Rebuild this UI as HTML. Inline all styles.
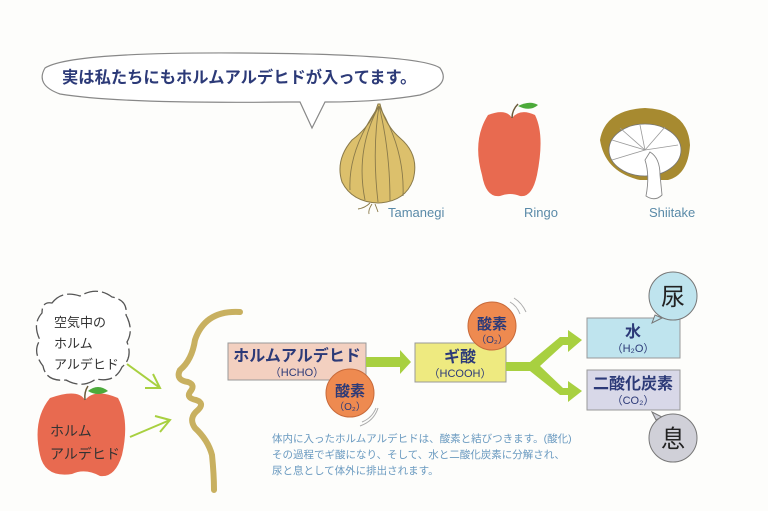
<!DOCTYPE html>
<html><head><meta charset="utf-8"><style>
html,body{margin:0;padding:0;background:#fdfdfb;}
svg{display:block}
text{font-family:"Liberation Sans","Noto Sans CJK JP",sans-serif;}
</style></head><body>
<svg width="768" height="511" viewBox="0 0 768 511" xmlns="http://www.w3.org/2000/svg">
<rect width="768" height="511" fill="#fdfdfb"/>
<!-- speech bubble -->
<path d="M290,102 Q120,104 60,94 Q35,85 45,68 Q70,52 240,53 Q420,54 440,68 Q452,85 420,95 Q380,102 325,102 L312,128 L300,102 Z" fill="#fff" stroke="#888" stroke-width="1.2"/>
<text x="62" y="83" font-size="16.3" font-weight="bold" fill="#2c3a78">実は私たちにもホルムアルデヒドが入ってます。</text>
<!-- onion -->
<path d="M378,104 Q372,125 352,140 Q335,160 342,182 Q352,202 378,203 Q405,202 413,180 Q420,155 400,138 Q385,125 380,104 Z" fill="#dcc06c" stroke="#8a7a4a" stroke-width="1"/>
<g fill="none" stroke="#8a7a4a" stroke-width="0.9">
<path d="M379,106 Q355,150 365,200"/><path d="M379,106 Q372,150 378,202"/><path d="M379,106 Q390,150 390,201"/><path d="M379,106 Q405,150 403,196"/><path d="M379,106 Q348,150 350,190"/>
<path d="M370,203 q-5,5 -12,6 M372,204 q-4,6 -3,10 M375,204 q2,5 3,8"/></g>
<!-- apple top -->
<path d="M488,115 Q506,108 512,118 Q520,108 535,115 Q545,135 537,175 Q532,198 520,196 Q510,192 500,196 Q486,198 482,175 Q472,140 488,115 Z" fill="#e86a50"/>
<path d="M512,118 Q512,110 518,104" stroke="#6a5a3a" stroke-width="1.5" fill="none"/>
<path d="M518,106 Q530,100 538,105 Q530,112 518,106 Z" fill="#4caa3a"/>
<!-- mushroom -->
<path d="M600,140 Q605,110 645,108 Q688,110 690,145 Q688,175 668,180 L640,180 Q605,172 600,140 Z" fill="#a78a30"/>
<ellipse cx="645" cy="150" rx="36" ry="26" fill="#fff" stroke="#777" stroke-width="0.8"/>
<g stroke="#999" stroke-width="0.8"><line x1="645" y1="150" x2="612" y2="140"/><line x1="645" y1="150" x2="620" y2="128"/><line x1="645" y1="150" x2="640" y2="125"/><line x1="645" y1="150" x2="665" y2="127"/><line x1="645" y1="150" x2="678" y2="145"/><line x1="645" y1="150" x2="612" y2="160"/></g>
<path d="M650,152 Q660,158 660,175 L662,195 Q655,202 646,196 Q650,175 645,160 Z" fill="#fff" stroke="#888" stroke-width="0.9"/>
<g font-size="13" fill="#5a8aa8"><text x="388" y="217">Tamanegi</text><text x="524" y="217">Ringo</text><text x="649" y="217">Shiitake</text></g>
<!-- cloud -->
<path d="M52,303 Q62,290 80,296 Q97,286 112,297 Q128,300 126,315 Q134,330 127,342 Q133,358 122,367 Q115,383 96,379 Q82,389 66,380 Q46,382 43,366 Q32,352 40,340 Q32,324 42,313 Q42,301 52,303 Z" fill="#fff" stroke="#555" stroke-width="1.3" stroke-dasharray="14,4"/>
<g font-size="13" fill="#333"><text x="54" y="327">空気中の</text><text x="54" y="348">ホルム</text><text x="54" y="369">アルデヒド</text></g>
<!-- bottom apple -->
<path d="M50,398 Q78,388 85,400 Q95,388 118,398 Q130,420 122,455 Q115,478 100,476 Q85,468 72,474 Q45,478 40,455 Q32,420 50,398 Z" fill="#e86a50"/>
<path d="M85,400 Q84,392 88,386" stroke="#6a5a3a" stroke-width="1.5" fill="none"/>
<path d="M88,391 Q98,383 108,391 Q98,397 88,391 Z" fill="#4caa3a"/>
<g font-size="14" fill="#333"><text x="50" y="436">ホルム</text><text x="50" y="459">アルデヒド</text></g>
<!-- inflow arrows -->
<g stroke="#a8d040" stroke-width="2" fill="none"><path d="M127,364 L160,388 M145,388 L160,388 L153,374"/><path d="M130,437 L170,420 M155,416 L170,420 L160,432"/></g>
<!-- face -->
<path d="M240,312 Q205,310 195,340 Q192,360 180,370 Q175,380 188,382 Q196,385 190,392 Q186,398 196,400 Q205,403 198,410 Q188,418 195,428 Q208,440 212,455 Q214,475 214,490" fill="none" stroke="#c8b060" stroke-width="6" stroke-linecap="round"/>
<!-- HCHO box -->
<rect x="228" y="343" width="138" height="37" fill="#f3d0c0" stroke="#999" stroke-width="1"/>
<text x="297" y="361" font-size="16" font-weight="bold" fill="#2c3a78" text-anchor="middle">ホルムアルデヒド</text>
<text x="297" y="376" font-size="11" fill="#2c3a78" text-anchor="middle">（HCHO）</text>
<!-- arrow 1 -->
<path d="M366,357 L400,357 L400,350 L411,362 L400,374 L400,367 L366,367 Z" fill="#a8d040"/>
<!-- ギ酸 box -->
<rect x="415" y="343" width="91" height="39" fill="#eeea80" stroke="#999" stroke-width="1"/>
<text x="460" y="362" font-size="16" font-weight="bold" fill="#2c3a78" text-anchor="middle">ギ酸</text>
<text x="460" y="377" font-size="11" fill="#2c3a78" text-anchor="middle">（HCOOH）</text>
<!-- Y branch -->
<path d="M506,362 L530,362 L560,337 L568,337 L568,330 L582,340 L568,352 L568,345 L563,345 L540,366 L563,388 L568,388 L568,381 L582,391 L568,402 L568,395 L560,395 L530,371 L506,371 Z" fill="#a8d040"/>
<!-- O2 circles -->
<g><circle cx="350" cy="393" r="24" fill="#ee8a50" stroke="#c86a3a"/>
<text x="350" y="396" font-size="15" font-weight="bold" fill="#2c3a78" text-anchor="middle">酸素</text>
<text x="350" y="410" font-size="10" fill="#2c3a78" text-anchor="middle">（O₂）</text>
<path d="M362,422 q10,-4 14,-14 M360,426 q14,-5 18,-18" stroke="#aaa" fill="none"/></g>
<g><circle cx="492" cy="326" r="24" fill="#ee8a50" stroke="#c86a3a"/>
<text x="492" y="329" font-size="15" font-weight="bold" fill="#2c3a78" text-anchor="middle">酸素</text>
<text x="492" y="343" font-size="10" fill="#2c3a78" text-anchor="middle">（O₂）</text>
<path d="M510,302 q7,4 10,12 M514,298 q8,5 12,14" stroke="#aaa" fill="none"/></g>
<!-- result boxes -->
<rect x="587" y="318" width="93" height="40" fill="#bfe4ee" stroke="#999"/>
<text x="633" y="337" font-size="16" font-weight="bold" fill="#2c3a78" text-anchor="middle">水</text>
<text x="633" y="352" font-size="11" fill="#2c3a78" text-anchor="middle">（H₂O）</text>
<rect x="587" y="370" width="93" height="40" fill="#d8d8e8" stroke="#999"/>
<text x="633" y="389" font-size="16" font-weight="bold" fill="#2c3a78" text-anchor="middle">二酸化炭素</text>
<text x="633" y="404" font-size="11" fill="#2c3a78" text-anchor="middle">（CO₂）</text>
<!-- bubbles -->
<path d="M655,315 L652,323 L662,318 Z" fill="#bfe4ee" stroke="#777"/>
<circle cx="673" cy="296" r="24" fill="#bfe4ee" stroke="#777"/>
<text x="673" y="305" font-size="24" fill="#222" text-anchor="middle">尿</text>
<path d="M656,420 L652,412 L662,417 Z" fill="#d0d0d8" stroke="#777"/>
<circle cx="673" cy="438" r="24" fill="#d0d0d8" stroke="#777"/>
<text x="673" y="447" font-size="24" fill="#222" text-anchor="middle">息</text>
<!-- paragraph -->
<g font-size="10.5" fill="#6a9ac0"><text x="272" y="442">体内に入ったホルムアルデヒドは、酸素と結びつきます。(酸化)</text><text x="272" y="458">その過程でギ酸になり、そして、水と二酸化炭素に分解され、</text><text x="272" y="474">尿と息として体外に排出されます。</text></g>
</svg>
</body></html>
